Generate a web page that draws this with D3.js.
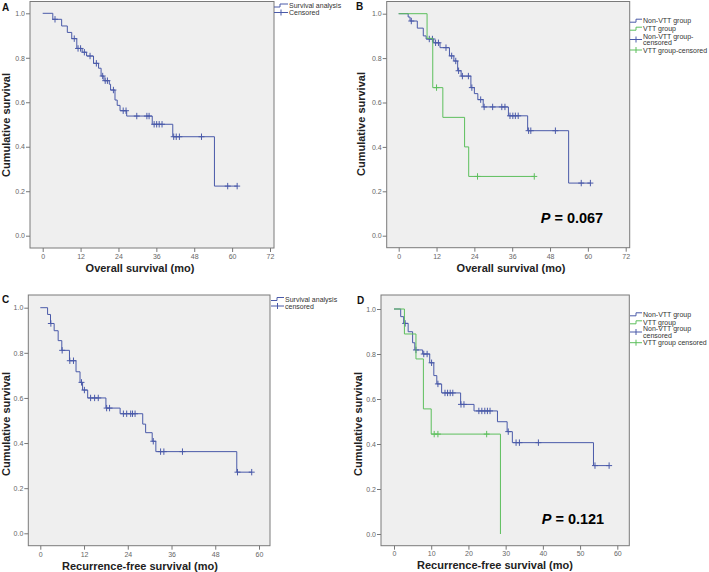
<!DOCTYPE html>
<html><head><meta charset="utf-8">
<script src="https://cdn.jsdelivr.net/npm/d3@7"></script>
<style>body{margin:0;background:#fff} svg{display:block}</style>
</head><body>
<svg id="c" width="709" height="572"></svg>
<script>
// ---------- DATA ----------
const yTickValues = [0, 0.2, 0.4, 0.6, 0.8, 1.0];
const xTicksMonths12 = [0, 12, 24, 36, 48, 60, 72];
const xTicksC = [0, 12, 24, 36, 48, 60];
const xTicksD = [0, 10, 20, 30, 40, 50, 60];

// Panel A: overall survival, all patients
const A_times  = [3.2, 6.0, 7.8, 9.2, 10.8, 12.5, 13.9, 16.1, 17.7, 18.5, 19.4, 21.1, 21.5, 22.9, 23.6, 24.5, 26.6, 34.7, 41.2, 54.4];
const A_surv   = [0.973, 0.943, 0.914, 0.886, 0.842, 0.825, 0.808, 0.775, 0.753, 0.718, 0.697, 0.681, 0.655, 0.610, 0.586, 0.562, 0.538, 0.501, 0.445, 0.223];
const A_censor = [3.9, 10.0, 11.2, 12.0, 13.2, 15.0, 17.0, 19.0, 19.8, 20.5, 22.4, 25.5, 26.4, 29.8, 33.0, 33.7, 35.3, 36.1, 36.9, 37.8, 41.5, 42.3, 43.3, 50.3, 58.6, 61.6];

// Panel B: overall survival by VTT
const B_non_times  = [3.0, 3.6, 5.9, 7.8, 8.7, 11.1, 13.1, 16.1, 17.5, 18.7, 19.8, 22.9, 24.0, 25.1, 26.8, 34.8, 40.9, 53.9];
const B_non_surv   = [0.985, 0.967, 0.935, 0.900, 0.886, 0.869, 0.847, 0.810, 0.787, 0.743, 0.719, 0.667, 0.640, 0.613, 0.580, 0.540, 0.473, 0.237];
const B_non_censor = [4.0, 9.7, 10.7, 11.7, 12.6, 15.0, 16.8, 18.1, 19.0, 20.2, 22.1, 23.2, 26.0, 27.1, 29.8, 32.7, 33.7, 35.3, 36.2, 37.0, 37.9, 41.2, 41.9, 49.7, 57.9, 60.8];
const B_vtt_times  = [9.0, 10.8, 14.0, 20.9, 22.2];
const B_vtt_surv   = [0.889, 0.667, 0.533, 0.400, 0.267];
const B_vtt_censor = [12.0, 25.0, 43.0];

// Panel C: recurrence-free survival, all patients
const C_times  = [2.0, 2.8, 3.8, 4.9, 5.9, 8.0, 9.8, 10.9, 11.6, 13.0, 18.0, 21.9, 28.1, 28.9, 30.7, 31.7, 53.9];
const C_surv   = [0.970, 0.930, 0.898, 0.854, 0.811, 0.765, 0.716, 0.669, 0.635, 0.600, 0.555, 0.530, 0.484, 0.446, 0.408, 0.362, 0.271];
const C_censor = [2.9, 6.0, 8.1, 9.1, 11.3, 12.1, 13.8, 14.9, 15.9, 18.2, 19.0, 22.8, 23.7, 24.8, 25.3, 26.0, 31.0, 33.0, 33.9, 39.0, 54.1, 58.0];

// Panel D: recurrence-free survival by VTT
const D_non_times  = [1.8, 2.6, 3.8, 5.0, 5.6, 7.7, 9.6, 10.7, 11.5, 12.8, 17.9, 21.5, 27.8, 30.4, 31.8, 53.6];
const D_non_surv   = [0.966, 0.936, 0.899, 0.850, 0.818, 0.800, 0.761, 0.704, 0.667, 0.627, 0.576, 0.547, 0.499, 0.455, 0.406, 0.304];
const D_non_censor = [3.0, 5.9, 8.0, 8.9, 10.1, 11.8, 13.7, 14.4, 15.1, 15.8, 18.0, 18.8, 22.8, 23.6, 24.4, 25.1, 25.8, 30.7, 32.8, 33.7, 38.8, 54.0, 57.8];
const D_vtt_times  = [2.8, 5.9, 7.9, 10.0, 28.6];
const D_vtt_surv   = [0.889, 0.778, 0.556, 0.444, 0.0];
const D_vtt_censor = [10.8, 11.8, 24.9];

const P_B = "0.067", P_D = "0.121";

// ---------- DRAWING ----------
const BLUE = "#4a5aa9", GREEN = "#5dbf5d";
const svg = d3.select("#c");
const FONT = "'Liberation Sans', Arial, sans-serif";
const NARROW = "'Liberation Sans Narrow', 'Arial Narrow', 'Liberation Sans', sans-serif";

function stepValue(times, surv, t) {
  let s = 1;
  for (let i = 0; i < times.length; i++) if (times[i] <= t) s = surv[i];
  return s;
}

function drawPanel(p) {
  const g = svg.append("g");
  const [fl, fr, ft, fb] = p.frame;
  g.append("rect").attr("x", fl).attr("y", ft).attr("width", fr - fl).attr("height", fb - ft)
    .attr("fill", "#efefef").attr("stroke", "#7a7a7a").attr("stroke-width", 1);

  const x = d3.scaleLinear().domain([0, p.xMax]).range([p.x0, p.x1]);
  const y = d3.scaleLinear().domain([0, 1]).range([p.y0, p.y1]);

  const ya = g.append("g").attr("transform", `translate(${fl},0)`)
    .call(d3.axisLeft(y).tickValues(yTickValues).tickFormat(d3.format(".1f")).tickSize(4).tickPadding(1));
  const xa = g.append("g").attr("transform", `translate(0,${fb})`)
    .call(d3.axisBottom(x).tickValues(p.xTicks).tickFormat(d3.format("d")).tickSize(4).tickPadding(p.xPad));
  [ya, xa].forEach(a => {
    a.select(".domain").remove();
    a.selectAll(".tick line").attr("stroke", "#777");
    a.selectAll(".tick text").attr("fill", "#666").style("font-family", FONT).style("font-size", "7px");
  });

  const line = d3.line().x(d => x(d[0])).y(d => y(d[1])).curve(d3.curveStepAfter);
  p.series.forEach(s => {
    const pts = [[0, 1]];
    s.times.forEach((t, i) => pts.push([t, s.surv[i]]));
    pts.push([s.end, s.surv[s.surv.length - 1]]);
    g.append("path").attr("d", line(pts)).attr("fill", "none").attr("stroke", s.color).attr("stroke-width", 1);
    const cg = g.append("g").attr("stroke", s.color).attr("stroke-width", 1);
    s.censor.forEach(c => {
      const cx = x(c), cy = y(stepValue(s.times, s.surv, c));
      cg.append("line").attr("x1", cx).attr("x2", cx).attr("y1", cy - 3.2).attr("y2", cy + 3.2);
      cg.append("line").attr("x1", cx - 3).attr("x2", cx + 3).attr("y1", cy).attr("y2", cy);
    });
  });

  // titles
  g.append("text").attr("x", p.xTitle[0]).attr("y", p.xTitle[1]).attr("text-anchor", "middle")
    .style("font-family", NARROW).style("font-weight", "bold").style("font-size", "11px").attr("fill", "#222")
    .text(p.xLabel);
  g.append("text").attr("transform", `translate(${p.yTitle[0]},${p.yTitle[1]}) rotate(-90)`).attr("text-anchor", "middle")
    .style("font-family", NARROW).style("font-weight", "bold").style("font-size", "11px").attr("fill", "#222")
    .text("Cumulative survival");
  g.append("text").attr("x", p.letter[0]).attr("y", p.letter[1])
    .style("font-family", FONT).style("font-weight", "bold").style("font-size", "10px").attr("fill", "#111")
    .text(p.name);

  // legend
  const lg = g.append("g");
  p.legend.items.forEach(it => {
    const sx = p.legend.sx, tx = p.legend.tx, ry = it.y;
    if (it.type === "step") {
      lg.append("path").attr("d", `M${sx},${ry + 1.5}H${sx + 6}V${ry - 1.5}H${tx - 1}`)
        .attr("fill", "none").attr("stroke", it.color);
    } else {
      lg.append("line").attr("x1", sx).attr("x2", tx - 1).attr("y1", ry).attr("y2", ry).attr("stroke", it.color);
      const mx = (sx + tx - 1) / 2;
      lg.append("line").attr("x1", mx).attr("x2", mx).attr("y1", ry - 3).attr("y2", ry + 3).attr("stroke", it.color);
    }
    const lines = it.label.split("\n");
    const t = lg.append("text").style("font-family", FONT).style("font-size", "7px").attr("fill", "#333");
    lines.forEach((l, i) => {
      t.append("tspan").attr("x", tx).attr("y", ry + 2.5 + (i - (lines.length - 1) / 2) * 6.2).text(l);
    });
  });

  if (p.pval) {
    const pt = g.append("text").attr("x", p.pval.x).attr("y", p.pval.y)
      .style("font-family", FONT).style("font-weight", "bold").style("font-size", "14.5px").attr("fill", "#000");
    pt.append("tspan").style("font-style", "italic").text("P");
    pt.append("tspan").text(" = " + p.pval.v);
  }
}

const panels = [
  { name: "A", frame: [30, 274, 1.5, 248], x0: 42.7, x1: 270, xMax: 72, y0: 235.7, y1: 13.3, xPad: 2,
    xTicks: xTicksMonths12, xLabel: "Overall survival (mo)", xTitle: [140, 272], yTitle: [10, 125], letter: [2, 11],
    series: [{ times: A_times, surv: A_surv, censor: A_censor, end: 61.6, color: BLUE }],
    legend: { sx: 274, tx: 289, items: [
      { type: "step", color: BLUE, y: 5.5, label: "Survival analysis" },
      { type: "plus", color: BLUE, y: 12.5, label: "Censored" }] } },
  { name: "B", frame: [386.7, 629.7, 1.5, 247.7], x0: 398.7, x1: 625.7, xMax: 72, y0: 235.7, y1: 13.7, xPad: 2,
    xTicks: xTicksMonths12, xLabel: "Overall survival (mo)", xTitle: [511, 272], yTitle: [365, 124], letter: [356, 10],
    series: [
      { times: B_non_times, surv: B_non_surv, censor: B_non_censor, end: 60.8, color: BLUE },
      { times: B_vtt_times, surv: B_vtt_surv, censor: B_vtt_censor, end: 43.0, color: GREEN }],
    legend: { sx: 630, tx: 643, items: [
      { type: "step", color: BLUE, y: 20.7, label: "Non-VTT group" },
      { type: "step", color: GREEN, y: 28.7, label: "VTT group" },
      { type: "plus", color: BLUE, y: 39.5, label: "Non-VTT group-\ncensored" },
      { type: "plus", color: GREEN, y: 50, label: "VTT group-censored" }] },
    pval: { x: 540.7, y: 223.3, v: P_B } },
  { name: "C", frame: [28.3, 270, 295, 545.7], x0: 40.3, x1: 259, xMax: 60, y0: 533.3, y1: 307.7, xPad: 2,
    xTicks: xTicksC, xLabel: "Recurrence-free survival (mo)", xTitle: [140, 570], yTitle: [9.5, 424], letter: [2, 303],
    series: [{ times: C_times, surv: C_surv, censor: C_censor, end: 58.0, color: BLUE }],
    legend: { sx: 271, tx: 285, items: [
      { type: "step", color: BLUE, y: 299, label: "Survival analysis" },
      { type: "plus", color: BLUE, y: 306, label: "censored" }] } },
  { name: "D", frame: [381, 629.3, 295, 545.7], x0: 394, x1: 617.3, xMax: 60, y0: 534, y1: 309, xPad: 1,
    xTicks: xTicksD, xLabel: "Recurrence-free survival (mo)", xTitle: [495, 569], yTitle: [362, 424], letter: [357, 304],
    series: [
      { times: D_non_times, surv: D_non_surv, censor: D_non_censor, end: 57.8, color: BLUE },
      { times: D_vtt_times, surv: D_vtt_surv, censor: D_vtt_censor, end: 28.6, color: GREEN }],
    legend: { sx: 630, tx: 643, items: [
      { type: "step", color: BLUE, y: 314.3, label: "Non-VTT group" },
      { type: "step", color: GREEN, y: 322.3, label: "VTT group" },
      { type: "plus", color: BLUE, y: 332, label: "Non-VTT group\ncensored" },
      { type: "plus", color: GREEN, y: 342.7, label: "VTT group censored" }] },
    pval: { x: 541.7, y: 524, v: P_D } }
];
panels.forEach(drawPanel);
</script>
</body></html>
